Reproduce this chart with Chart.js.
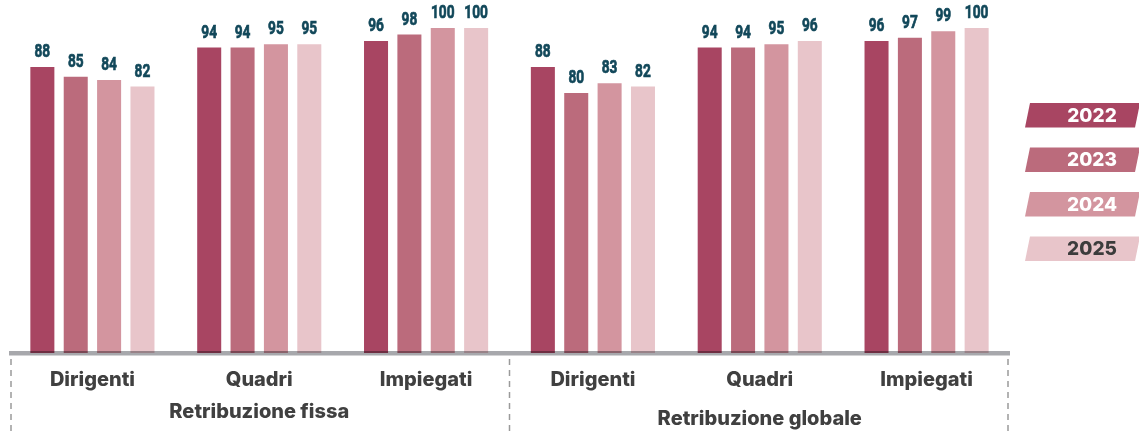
<!DOCTYPE html>
<html>
<head>
<meta charset="utf-8">
<script src="https://cdn.jsdelivr.net/npm/chart.js@4.4.1/dist/chart.umd.min.js"></script>
<style>
  html, body { margin: 0; padding: 0; background: #fff; }
  #wrap { width: 1139px; height: 432px; position: relative; }
</style>
</head>
<body>
<div id="wrap"><canvas id="payChart"></canvas></div>
<script>
// Dati
const categories = ['Dirigenti', 'Quadri', 'Impiegati', 'Dirigenti', 'Quadri', 'Impiegati'];
const groups = ['Retribuzione fissa', 'Retribuzione globale'];
const years = ['2022', '2023', '2024', '2025'];
const values2022 = [88, 94, 96, 88, 94, 96];
const values2023 = [85, 94, 98, 80, 94, 97];
const values2024 = [84, 95, 100, 83, 95, 99];
const values2025 = [82, 95, 100, 82, 96, 100];

const colors = ['#a84562', '#bb6b7c', '#d3959f', '#e8c5ca'];
const legendText = ['#ffffff', '#ffffff', '#ffffff', '#3c3c3c'];

// Etichette valori sopra le barre (carattere "stretto" via scala orizzontale)
const valueLabels = {
    id: 'valueLabels',
    afterDatasetsDraw(chart) {
        const ctx = chart.ctx;
        ctx.save();
        ctx.font = 'bold 18px Roboto';
        ctx.fillStyle = '#12485a';
        ctx.strokeStyle = '#12485a';
        ctx.lineWidth = 0.7;
        ctx.textAlign = 'center';
        ctx.textBaseline = 'alphabetic';
        chart.data.datasets.forEach((ds, i) => {
            chart.getDatasetMeta(i).data.forEach((bar, j) => {
                ctx.save();
                ctx.translate(bar.x, bar.y - 10);
                ctx.scale(0.76, 1);
                ctx.fillText(ds.data[j], 0, 0);
                ctx.strokeText(ds.data[j], 0, 0);
                ctx.restore();
            });
        });
        ctx.restore();
    }
};

// Linea asse, separatori tratteggiati, gruppi e legenda
const decorations = {
    id: 'decorations',
    afterDatasetsDraw(chart) {
        const ctx = chart.ctx;
        const area = chart.chartArea;
        ctx.save();

        // linea asse (sopra le barre, in moltiplicazione)
        ctx.globalCompositeOperation = 'multiply';
        ctx.fillStyle = '#a7a8ac';
        ctx.fillRect(area.left, area.bottom - 2, area.right - area.left, 4.5);
        ctx.globalCompositeOperation = 'source-over';

        // separatori
        const mid = (area.left + area.right) / 2;
        ctx.strokeStyle = '#9a9a9a';
        ctx.lineWidth = 1.5;
        ctx.setLineDash([6, 5]);
        [area.left + 2, mid, area.right - 2].forEach(x => {
            ctx.beginPath();
            ctx.moveTo(x, area.bottom + 6);
            ctx.lineTo(x, 432);
            ctx.stroke();
        });
        ctx.setLineDash([]);

        // etichette gruppi
        ctx.font = '800 20px Inter';
        ctx.fillStyle = '#404040';
        ctx.textAlign = 'center';
        ctx.textBaseline = 'middle';
        ctx.fillText(groups[0], (area.left + mid) / 2, 412);
        ctx.fillText(groups[1], (mid + area.right) / 2, 419);

        // legenda a parallelogrammi
        ctx.font = '800 19px Inter';
        chart.data.datasets.forEach((ds, i) => {
            const top = 103 + i * 44.5;
            const h = 24.5;
            ctx.fillStyle = ds.backgroundColor;
            ctx.beginPath();
            ctx.moveTo(1030, top);
            ctx.lineTo(1140, top);
            ctx.lineTo(1135, top + h);
            ctx.lineTo(1025, top + h);
            ctx.closePath();
            ctx.fill();
            ctx.fillStyle = legendText[i];
            ctx.fillText(ds.label, 1092, top + h / 2 + 1);
        });
        ctx.restore();
    }
};

const ctx = document.getElementById('payChart').getContext('2d');
new Chart(ctx, {
    type: 'bar',
    data: {
        labels: categories,
        datasets: [
            { label: years[0], data: values2022, backgroundColor: colors[0] },
            { label: years[1], data: values2023, backgroundColor: colors[1] },
            { label: years[2], data: values2024, backgroundColor: colors[2] },
            { label: years[3], data: values2025, backgroundColor: colors[3] }
        ]
    },
    options: {
        responsive: true,
        maintainAspectRatio: false,
        animation: false,
        layout: { padding: { left: 9, right: 129, top: 28, bottom: 0 } },
        datasets: {
            bar: { categoryPercentage: 0.8, barPercentage: 0.72 }
        },
        plugins: {
            legend: { display: false },
            tooltip: { enabled: false }
        },
        scales: {
            y: {
                display: false,
                min: 0,
                max: 100
            },
            x: {
                grid: { display: false, drawTicks: false },
                border: { display: false },
                ticks: {
                    padding: 15,
                    color: '#404040',
                    font: { family: 'Inter', size: 20, weight: '800' }
                },
                afterFit: function (scale) {
                    scale.height = 79;
                }
            }
        }
    },
    plugins: [valueLabels, decorations]
});
</script>
</body>
</html>
